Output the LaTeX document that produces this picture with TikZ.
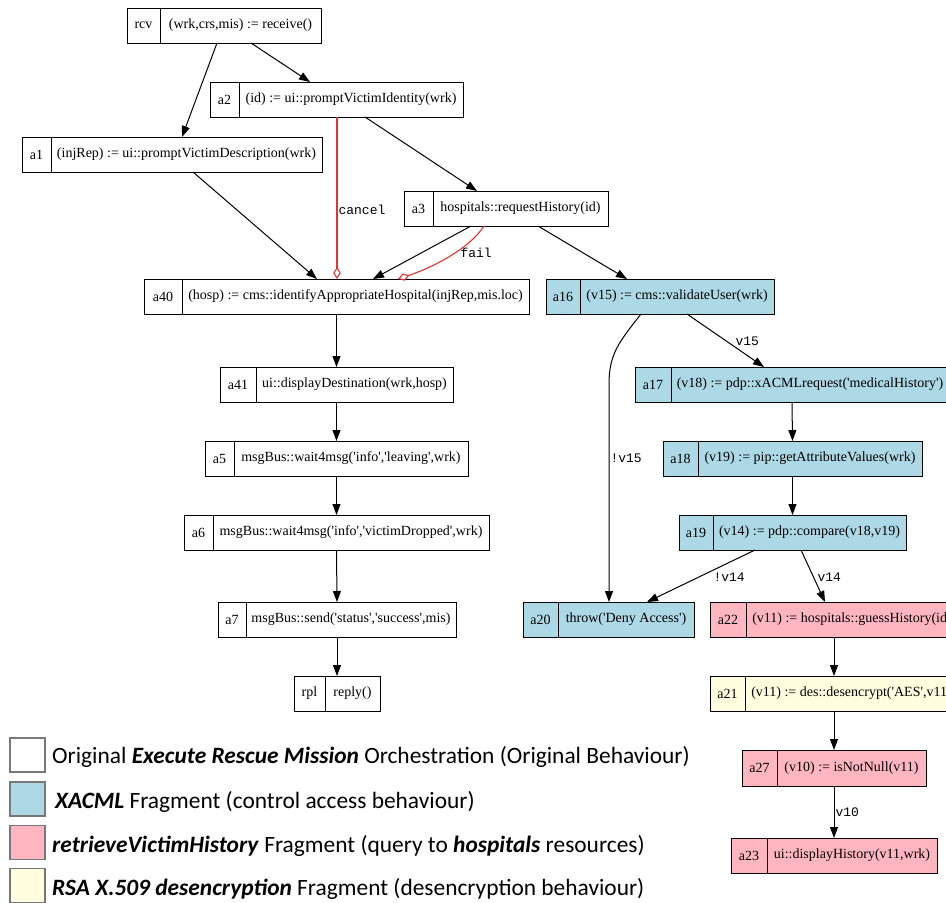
\documentclass[tikz,border=0pt]{standalone}
\usepackage{fontspec}
\setmainfont{Liberation Serif}[Ligatures=TeXOff]
\setmonofont{Liberation Mono}
\newfontfamily\legendfont{Carlito}
\usetikzlibrary{arrows.meta}
\definecolor{xacml}{HTML}{ADD8E6}
\definecolor{retr}{HTML}{FFB6C1}
\definecolor{rsa}{HTML}{FFFFE0}
\definecolor{failred}{RGB}{228,50,50}
\definecolor{legborder}{RGB}{120,120,120}

\newcommand\actbox[9]{%
  \pgfmathsetmacro\myW{#3-#2}%
  \pgfmathsetmacro\myH{#6-#5}%
  \pgfmathsetmacro\myX{(#2+#3)/2}%
  \pgfmathsetmacro\myY{(#5+#6)/2}%
  \pgfmathsetmacro\myIdX{(#2+#4)/2}%
  \pgfmathsetmacro\myTxX{(#4+#3)/2}%
  \node[actframe,fill=#9,minimum width=\myW pt,minimum height=\myH pt] (#1) at (\myX,\myY) {};
  \draw[actline] (#4,#5) -- (#4,#6);
  \node[celltext] (#1-id) at (\myIdX,\myY) {#7};
  \node[celltext] (#1-txt) at (\myTxX,\myY) {#8};
}

\begin{document}
\begin{tikzpicture}[x=1pt,y=-1pt,
  actframe/.style={draw=black, line width=1pt, inner sep=0pt, outer sep=0pt},
  actline/.style={draw=black, line width=1pt},
  celltext/.style={inner sep=0pt, font=\fontsize{14}{16}\selectfont},
  flow/.style={draw=black, line width=1pt, -{Triangle[length=11pt,width=8pt]}},
  excflow/.style={draw=failred, line width=1.1pt, -{Diamond[open,length=12pt,width=7.5pt]}},
  elabel/.style={font=\ttfamily\fontsize{13}{15}\selectfont, inner sep=0pt, anchor=west, text=black},
  legbox/.style={draw=legborder, line width=1.2pt, minimum width=35pt, minimum height=34pt, inner sep=0pt},
  legtext/.style={font=\legendfont\fontsize{23.4}{28}\selectfont, anchor=west, inner sep=0pt}
]
\useasboundingbox (0,0) rectangle (946,903);
\clip (0,0) rectangle (946,903);

% ---------- activity boxes ----------
\actbox{rcv}{127}{321}{160}{8}{43}{rcv}{(wrk,crs,mis) := receive()}{white}
\actbox{a2}{210}{463}{239}{82}{117}{a2}{(id) := ui::promptVictimIdentity(wrk)}{white}
\actbox{a1}{22}{322}{51}{137}{172}{a1}{(injRep) := ui::promptVictimDescription(wrk)}{white}
\actbox{a3}{404}{608}{433}{191}{226}{a3}{hospitals::requestHistory(id)}{white}
\actbox{a40}{144}{529}{182}{279}{314}{a40}{(hosp) := cms::identifyAppropriateHospital(injRep,mis.loc)}{white}
\actbox{a16}{546}{774}{580}{279}{314}{a16}{(v15) := cms::validateUser(wrk)}{xacml}
\actbox{a41}{220}{453}{256}{367}{402}{a41}{ui::displayDestination(wrk,hosp)}{white}
\actbox{a17}{635}{949}{671}{367}{402}{a17}{(v18) := pdp::xACMLrequest('medicalHistory')}{xacml}
\actbox{a5}{205}{468}{234}{441}{476}{a5}{msgBus::wait4msg('info','leaving',wrk)}{white}
\actbox{a18}{663}{922}{698}{441}{476}{a18}{(v19) := pip::getAttributeValues(wrk)}{xacml}
\actbox{a6}{184}{489}{213}{515}{550}{a6}{msgBus::wait4msg('info','victimDropped',wrk)}{white}
\actbox{a19}{679}{906}{713}{515}{550}{a19}{(v14) := pdp::compare(v18,v19)}{xacml}
\actbox{a7}{218}{456}{246}{602}{637}{a7}{msgBus::send('status','success',mis)}{white}
\actbox{a20}{523}{694}{558}{602}{637}{a20}{throw('Deny Access')}{xacml}
\actbox{a22}{710}{958}{746}{602}{637}{a22}{(v11) := hospitals::guessHistory(id)}{retr}
\actbox{rpl}{294}{380}{325}{676}{711}{rpl}{reply()}{white}
\actbox{a21}{710}{958}{745}{676}{711}{a21}{(v11) := des::desencrypt('AES',v11)}{rsa}
\actbox{a27}{742}{926}{777}{750}{786}{a27}{(v10) := isNotNull(v11)}{retr}
\actbox{a23}{731}{937}{767}{838}{873}{a23}{ui::displayHistory(v11,wrk)}{retr}

% ---------- connectors ----------
\draw[flow] ([xshift=90pt]rcv.south west) -- ([xshift=160pt]a1.north west);
\draw[flow] ([xshift=124pt]rcv.south west) -- ([xshift=100pt]a2.north west);
\draw[flow] ([xshift=155pt]a2.south west) -- ([xshift=73pt]a3.north west);
\draw[flow] ([xshift=171pt]a1.south west) -- ([xshift=173pt]a40.north west);
\draw[excflow] ([xshift=127pt]a2.south west) -- ([xshift=193pt]a40.north west)
  node[elabel] at (338,210) {cancel};
\draw[flow] ([xshift=67pt]a3.south west) -- ([xshift=229pt]a40.north west);
\draw[excflow] ([xshift=80pt]a3.south west) .. controls +(-14,22) and +(36,-12) .. ([xshift=254pt]a40.north west)
  node[elabel] at (460,253) {fail};
\draw[flow] ([xshift=134pt]a3.south west) -- ([xshift=81pt]a16.north west);
\draw[flow] (a40.south) -- (a41.north);
\draw[flow] (a41.south) -- (a5.north);
\draw[flow] (a5.south) -- (a6.north);
\draw[flow] (a6.south) -- (a7.north);
\draw[flow] (a7.south) -- (rpl.north);
\draw[flow] ([xshift=141pt]a16.south west) -- ([xshift=129pt]a17.north west)
  node[elabel] at (735,341) {v15};
\draw[flow] ([xshift=95pt]a16.south west) .. controls +(-22,28) and +(0,-30) .. ++(-32,70)
  -- ([xshift=86pt]a20.north west)
  node[elabel] at (610,458) {!v15};
\draw[flow] (a17.south) -- (a18.north);
\draw[flow] (a18.south) -- (a19.north);
\draw[flow] ([xshift=76pt]a19.south west) -- ([xshift=124pt]a20.north west)
  node[elabel] at (713,577) {!v14};
\draw[flow] ([xshift=122pt]a19.south west) -- ([xshift=115pt]a22.north west)
  node[elabel] at (817,577) {v14};
\draw[flow] (a22.south) -- (a21.north);
\draw[flow] (a21.south) -- (a27.north);
\draw[flow] (a27.south) -- (a23.north)
  node[elabel] at (835,812) {v10};

% ---------- legend ----------
\node[legbox, fill=white] (lg1) at (27.5,755) {};
\node[legbox, fill=xacml] (lg2) at (27.5,799) {};
\node[legbox, fill=retr] (lg3) at (27.5,842.5) {};
\node[legbox, fill=rsa] (lg4) at (27.5,885.5) {};
\node[legtext] (lt1) at (52,757) {Original \textbf{\textit{Execute Rescue Mission}} Orchestration (Original Behaviour)};
\node[legtext] (lt2) at (55,802) {\textbf{\textit{XACML}} Fragment (control access behaviour)};
\node[legtext] (lt3) at (52,846) {\textbf{\textit{retrieveVictimHistory}} Fragment (query to \textbf{\textit{hospitals}} resources)};
\node[legtext] (lt4) at (52,889) {\textbf{\textit{RSA X.509 desencryption}} Fragment (desencryption behaviour)};
\end{tikzpicture}
\end{document}
